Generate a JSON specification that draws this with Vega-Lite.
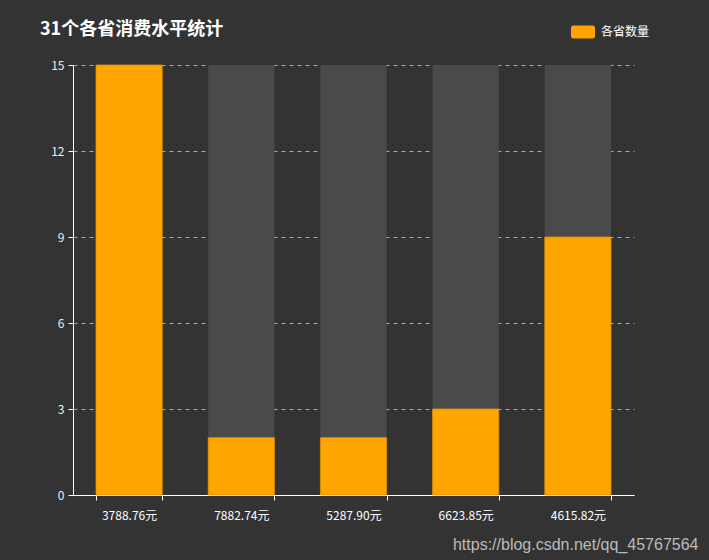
{
  "$schema": "https://vega.github.io/schema/vega-lite/v6.json",
  "width": 561,
  "height": 430,
  "autosize": {"type": "none"},
  "padding": {"left": 73, "top": 65, "right": 75, "bottom": 65},
  "background": "#333333",
  "title": {
    "text": "31个各省消费水平统计",
    "anchor": "start",
    "frame": "group",
    "dx": -33,
    "dy": 19,
    "offset": 0,
    "font": "Noto Sans CJK SC",
    "fontSize": 18,
    "fontWeight": "bold",
    "color": "#ffffff"
  },
  "data": {
    "values": [
      {"level": "3788.76元", "count": 15, "total": 15, "series": "各省数量"},
      {"level": "7882.74元", "count": 2, "total": 15, "series": "各省数量"},
      {"level": "5287.90元", "count": 2, "total": 15, "series": "各省数量"},
      {"level": "6623.85元", "count": 3, "total": 15, "series": "各省数量"},
      {"level": "4615.82元", "count": 9, "total": 15, "series": "各省数量"}
    ]
  },
  "encoding": {
    "x": {
      "field": "level",
      "type": "nominal",
      "sort": null,
      "scale": {"paddingInner": 0.41, "paddingOuter": 0.205},
      "axis": {
        "title": "https://blog.csdn.net/qq_45767564",
        "titleFont": "Liberation Sans",
        "titleFontSize": 16,
        "titleFontWeight": "normal",
        "titleColor": "#bbbbbb",
        "titleAlign": "right",
        "titleBaseline": "alphabetic",
        "titleX": 625,
        "titleY": 54,
        "labelAngle": 0,
        "labelColor": "#ffffff",
        "labelFont": "Noto Sans CJK SC",
        "labelFontSize": 12,
        "labelPadding": 10,
        "domainColor": "#ffffff",
        "tickColor": "#ffffff",
        "tickSize": 5,
        "tickBand": "extent",
        "grid": false
      }
    }
  },
  "layer": [
    {
      "mark": {"type": "bar", "color": "#4a4a4a"},
      "encoding": {
        "y": {
          "field": "total",
          "type": "quantitative",
          "scale": {"domain": [0, 15], "nice": false},
          "axis": {
            "title": null,
            "values": [0, 3, 6, 9, 12, 15],
            "labelColor": "#eeeeee",
            "labelFont": "Noto Sans CJK SC",
            "labelFontSize": 12,
            "labelPadding": 4,
            "domainColor": "#ffffff",
            "tickColor": "#ffffff",
            "tickSize": 5,
            "gridColor": "#aaaaaa",
            "gridDash": [4, 4],
            "gridWidth": 1
          }
        }
      }
    },
    {
      "mark": {"type": "bar", "stroke": "#e09000", "strokeWidth": 0.8},
      "encoding": {
        "y": {"field": "count", "type": "quantitative"},
        "fill": {
          "field": "series",
          "type": "nominal",
          "scale": {"range": ["#FFA500"]},
          "legend": {
            "title": null,
            "orient": "none",
            "legendX": 498,
            "legendY": -45,
            "padding": 0,
            "symbolType": "M-0.8,-0.55 L0.8,-0.55 Q1,-0.55 1,-0.35 L1,0.35 Q1,0.55 0.8,0.55 L-0.8,0.55 Q-1,0.55 -1,0.35 L-1,-0.35 Q-1,-0.55 -0.8,-0.55 Z",
            "symbolSize": 576,
            "symbolStrokeWidth": 0,
            "labelColor": "#ffffff",
            "labelFont": "Noto Sans CJK SC",
            "labelFontSize": 12,
            "labelOffset": 6
          }
        }
      }
    }
  ],
  "config": {
    "view": {"stroke": null},
    "axis": {"domainWidth": 1, "tickWidth": 1}
  }
}
